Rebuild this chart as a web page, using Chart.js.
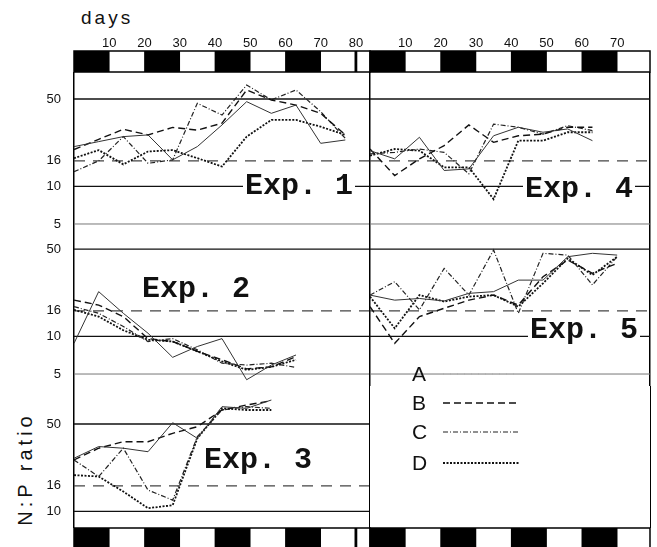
<!DOCTYPE html>
<html>
<head>
<meta charset="utf-8">
<script src="https://cdn.jsdelivr.net/npm/chart.js@4.4.1/dist/chart.umd.min.js"></script>
<style>
  html, body { margin: 0; padding: 0; background: #fff; }
  #fig { position: relative; width: 657px; height: 547px; overflow: hidden; background: #fff; font-family: 'Liberation Sans', sans-serif; color: #111; }
  canvas { position: absolute; }
  .exp { position: absolute; font: bold 30px 'Liberation Mono', 'Courier New', monospace; line-height: 30px; background: #fff; padding: 0 2px; white-space: pre; }
  #days { position: absolute; left: 81px; top: 8px; font-size: 19px; line-height: 19px; letter-spacing: 3px; }
  #ylab { position: absolute; left: 25px; top: 469px; transform: translate(-50%, -50%) rotate(-90deg); font-size: 20px; line-height: 20px; letter-spacing: 4px; white-space: nowrap; }
  #legendBox { position: absolute; left: 369px; top: 386px; width: 282px; height: 142px; border-left: 1.5px solid #000; border-right: 1.5px solid #000; box-sizing: border-box; }
  .lg { position: absolute; left: 412px; font-size: 21px; line-height: 24px; }
  .lgline { position: absolute; left: 443px; }
</style>
</head>
<body>
<div id="fig">
  <div id="days">days</div>
  <div id="ylab">N:P ratio</div>

  <canvas id="stripTL" width="298" height="73" style="left:73px;top:0px"></canvas>
  <canvas id="stripTR" width="282" height="73" style="left:369px;top:0px"></canvas>

  <canvas id="exp1" width="370" height="165" style="left:0px;top:72px"></canvas>
  <canvas id="exp2" width="370" height="149" style="left:0px;top:237px"></canvas>
  <canvas id="exp3" width="370" height="142" style="left:0px;top:386px"></canvas>
  <canvas id="exp4" width="295" height="165" style="left:360px;top:72px"></canvas>
  <canvas id="exp5" width="295" height="149" style="left:360px;top:237px"></canvas>
  <div id="legendBox"></div>

  <canvas id="stripBL" width="298" height="21" style="left:73px;top:527px"></canvas>
  <canvas id="stripBR" width="282" height="21" style="left:369px;top:527px"></canvas>

  <div class="exp" style="left:243px;top:171px">Exp. 1</div>
  <div class="exp" style="left:140px;top:274px">Exp. 2</div>
  <div class="exp" style="left:202px;top:445px">Exp. 3</div>
  <div class="exp" style="left:523px;top:174px">Exp. 4</div>
  <div class="exp" style="left:528px;top:315px">Exp. 5</div>

  <div id="legend"></div>
</div>

<script>
// Series and reference data
const seriesNames = ['A', 'B', 'C', 'D'];
const refLevels = [5, 10, 16, 50];
const yTickValues = [5, 10, 16, 50];
const xTickValues = [10, 20, 30, 40, 50, 60, 70, 80];
const darkPeriods = [[0, 10], [20, 30], [40, 50], [60, 70]];
const endMarkLeft = [79.7, 80.3];

// Exp. 1
const exp1Days = [0, 7, 14, 21, 28, 35, 42, 49, 56, 63, 70, 77];
const exp1A = [20.8, 22.8, 25, 25.8, 16.3, 20.8, 31, 47.6, 38.4, 44.7, 22.1, 23.5];
const exp1B = [19.7, 23.8, 28.6, 25.8, 29.6, 28.2, 32, 59, 49.1, 44.7, 38.4, 25.8];
const exp1C = [13.1, 16, 25, 15.3, 16.3, 46.2, 37.2, 64.7, 49.1, 59, 39.6, 24.2];
const exp1D = [16.8, 19.5, 15, 19, 19.5, 16.8, 14.4, 25, 34, 34, 30, 25.8];

// Exp. 2
const exp2Days = [0, 7, 14, 21, 28, 35, 42, 49, 56, 63];
const exp2A = [8.8, 22.8, 15.3, 10.6, 6.8, 8.3, 9.6, 4.5, 5.9, 7.1];
const exp2B = [19.5, 17.8, 14.4, 9.6, 9.1, 7.6, 6.5, 5.5, 5.7, 6.9];
const exp2C = [17.3, 15.3, 12, 9.1, 9.6, 7.8, 6.1, 5.9, 6.1, 5.65];
const exp2D = [16.3, 14.4, 11.2, 9.4, 9.1, 7.6, 6.3, 5.4, 5.7, 6.5];

// Exp. 3
const exp3Days = [0, 7, 14, 21, 28, 35, 42, 49, 56];
const exp3A = [26.6, 33, 32, 30, 51.2, 38.4, 68.8, 66.7, 77.8];
const exp3B = [25.8, 32, 36.1, 36.1, 42.1, 47.6, 64.7, 71, 76.8];
const exp3C = [25.8, 19, 32, 14.8, 12.3, 39.6, 64.7, 68.8, 66.7];
const exp3D = [19.5, 19, 14.4, 10.6, 11.2, 38.4, 66.7, 64.7, 64.7];

// Exp. 4
const exp4Days = [0, 7, 14, 21, 28, 35, 42, 49, 56, 63];
const exp4A = [19.3, 16.6, 24.7, 13.4, 13.8, 25.4, 29.7, 27.1, 28.8, 23.2];
const exp4B = [19.9, 12.2, 16.6, 21.2, 31, 22.5, 25.4, 26.2, 29.7, 29.7];
const exp4C = [18.2, 18.7, 19.9, 18.7, 12.6, 31.5, 29.7, 26.2, 30.6, 27.9];
const exp4D = [17.6, 19.9, 19.3, 14.2, 14.2, 7.9, 23.2, 23.2, 27.1, 27.1];

// Exp. 5
const exp5Days = [0, 7, 14, 21, 28, 35, 42, 49, 56, 63, 70];
const exp5A = [21.4, 19.5, 20.1, 19.2, 22.1, 22.8, 28.2, 28.2, 43.4, 46.2, 44.7];
const exp5B = [17.3, 8.8, 14.4, 16.8, 19.5, 21.4, 17.8, 30, 40.8, 32, 38.4];
const exp5C = [21.4, 27.4, 16.3, 35, 21.4, 49.1, 15.3, 46.2, 44.7, 25.8, 43.4];
const exp5D = [20.8, 11.6, 21.4, 19, 20.8, 21.4, 17.3, 26.6, 42.1, 31, 43.4];

// Styles
const tickFont = '"Liberation Sans Narrow", "Liberation Sans", sans-serif';
const seriesStyles = [
  { color: '#333', width: 1, dash: [], legendColor: '#aaa', legendDash: [1, 6] },
  { color: '#111', width: 1.4, dash: [7, 4] },
  { color: '#222', width: 1.2, dash: [5, 2, 1, 2] },
  { color: '#111', width: 1.8, dash: [2, 1.5] }
];
const refStyles = {
  50: { color: '#111', width: 1.3, dash: [] },
  16: { color: '#444', width: 1.2, dash: [11, 8] },
  10: { color: '#111', width: 1.2, dash: [] },
  5: { color: '#777', width: 1, dash: [] }
};
const xMaxLeft = 84;
const xMaxRight = 79.3;

// Draw a black frame around the chart area
const frame = {
  id: 'frame',
  afterDatasetsDraw(chart) {
    const { ctx, chartArea: a } = chart;
    ctx.save();
    ctx.strokeStyle = '#000';
    ctx.lineWidth = 1.5;
    ctx.strokeRect(a.left, a.top, a.right - a.left, a.bottom - a.top);
    ctx.restore();
  }
};

// Light / dark strip
function makeStrip(id, xMax, marks, showTicks) {
  return new Chart(document.getElementById(id), {
    type: 'bar',
    data: {
      labels: ['L'],
      datasets: [{
        data: marks.map(m => ({ x: m, y: 'L' })),
        backgroundColor: '#000',
        borderWidth: 0,
        barPercentage: 1,
        categoryPercentage: 1
      }]
    },
    options: {
      indexAxis: 'y',
      responsive: false,
      animation: false,
      events: [],
      layout: { padding: showTicks ? { left: 1, right: 1, bottom: 1 } : { left: 1, right: 1, top: 1 } },
      plugins: { legend: { display: false }, tooltip: { enabled: false } },
      scales: {
        x: {
          type: 'linear', position: 'top', min: 0, max: xMax, display: showTicks,
          grid: { display: false, drawTicks: false },
          border: { display: false },
          ticks: {
            padding: 0, color: '#111', autoSkip: false, maxRotation: 0,
            font: { family: tickFont, size: 13 }
          },
          afterBuildTicks: s => {
            s.ticks = xTickValues.filter(v => v <= s.max).map(v => ({ value: v }));
          },
          afterFit: s => {
            s.height = showTicks ? 51 : 0;
            s.paddingLeft = 0;
            s.paddingRight = 0;
          }
        },
        y: { type: 'category', display: false }
      }
    },
    plugins: [frame]
  });
}

// One experiment panel
function makePanel(id, cfg) {
  const datasets = cfg.series.map((vals, i) => {
    const st = seriesStyles[i];
    return {
      label: seriesNames[i],
      data: cfg.days.map((d, j) => ({ x: d, y: vals[j] })),
      borderColor: st.color,
      borderWidth: st.width,
      borderDash: st.dash,
      pointRadius: 0,
      tension: 0,
      fill: false,
      order: 0
    };
  });

  refLevels.filter(v => v > cfg.yMin && v < cfg.yMax).forEach(v => {
    const st = refStyles[v];
    datasets.push({
      data: [{ x: 0, y: v }, { x: cfg.xMax, y: v }],
      borderColor: st.color,
      borderWidth: st.width,
      borderDash: st.dash,
      pointRadius: 0,
      order: 1
    });
  });

  const scales = {
    x: { type: 'linear', min: 0, max: cfg.xMax, display: false },
    y: {
      type: 'logarithmic',
      min: cfg.yMin,
      max: cfg.yMax,
      grid: { display: false, drawTicks: false },
      border: { display: true, color: '#000', width: 1.5 },
      ticks: {
        display: cfg.showLabels,
        padding: 13,
        color: '#111',
        autoSkip: false,
        font: { family: tickFont, size: 13 },
        callback: v => String(v)
      },
      afterBuildTicks: s => {
        s.ticks = yTickValues.filter(v => v >= s.min && v <= s.max).map(v => ({ value: v }));
      },
      afterFit: s => {
        s.width = cfg.axisWidth;
        s.paddingTop = 0;
        s.paddingBottom = 0;
      }
    }
  };

  if (cfg.rightBorder) {
    scales.yR = {
      type: 'linear', position: 'right', min: 0, max: 1,
      grid: { display: false, drawTicks: false },
      border: { display: true, color: '#000', width: 1.5 },
      ticks: { display: false },
      afterFit: s => {
        s.width = 5;
        s.paddingTop = 0;
        s.paddingBottom = 0;
      }
    };
  }

  return new Chart(document.getElementById(id), {
    type: 'line',
    data: { datasets },
    options: {
      responsive: false,
      animation: false,
      events: [],
      layout: { padding: 0 },
      plugins: { legend: { display: false }, tooltip: { enabled: false } },
      scales
    }
  });
}

// Row ranges (log axis limits)
const row1 = { yMin: 3.935, yMax: 82.2 };
const row2 = { yMin: 4.01, yMax: 62.4 };
const row3 = { yMin: 7.36, yMax: 100.7 };

makeStrip('stripTL', xMaxLeft, darkPeriods.concat([endMarkLeft]), true);
makeStrip('stripTR', xMaxRight, darkPeriods, true);
makeStrip('stripBL', xMaxLeft, darkPeriods.concat([endMarkLeft]), false);
makeStrip('stripBR', xMaxRight, darkPeriods, false);

makePanel('exp1', { ...row1, days: exp1Days, series: [exp1A, exp1B, exp1C, exp1D], xMax: xMaxLeft, showLabels: true, axisWidth: 74 });
makePanel('exp2', { ...row2, days: exp2Days, series: [exp2A, exp2B, exp2C, exp2D], xMax: xMaxLeft, showLabels: true, axisWidth: 74 });
makePanel('exp3', { ...row3, days: exp3Days, series: [exp3A, exp3B, exp3C, exp3D], xMax: xMaxLeft, showLabels: true, axisWidth: 74 });
makePanel('exp4', { ...row1, days: exp4Days, series: [exp4A, exp4B, exp4C, exp4D], xMax: xMaxRight, showLabels: false, axisWidth: 10, rightBorder: true });
makePanel('exp5', { ...row2, days: exp5Days, series: [exp5A, exp5B, exp5C, exp5D], xMax: xMaxRight, showLabels: false, axisWidth: 10, rightBorder: true });

// Legend (line samples use the series styles)
const legendY = [374, 403, 432, 463];
const legend = document.getElementById('legend');
legend.innerHTML = seriesNames.map((name, i) => {
  const st = seriesStyles[i];
  const col = st.legendColor || st.color;
  const dash = (st.legendDash || st.dash).join(',');
  return `<div class="lg" style="top:${legendY[i] - 12}px">${name}</div>
    <svg class="lgline" width="76" height="6" style="top:${legendY[i] - 3}px">
      <line x1="0" y1="3" x2="76" y2="3" stroke="${col}" stroke-width="${Math.max(st.width, 1.2)}" stroke-dasharray="${dash}"/>
    </svg>`;
}).join('');
</script>
</body>
</html>
